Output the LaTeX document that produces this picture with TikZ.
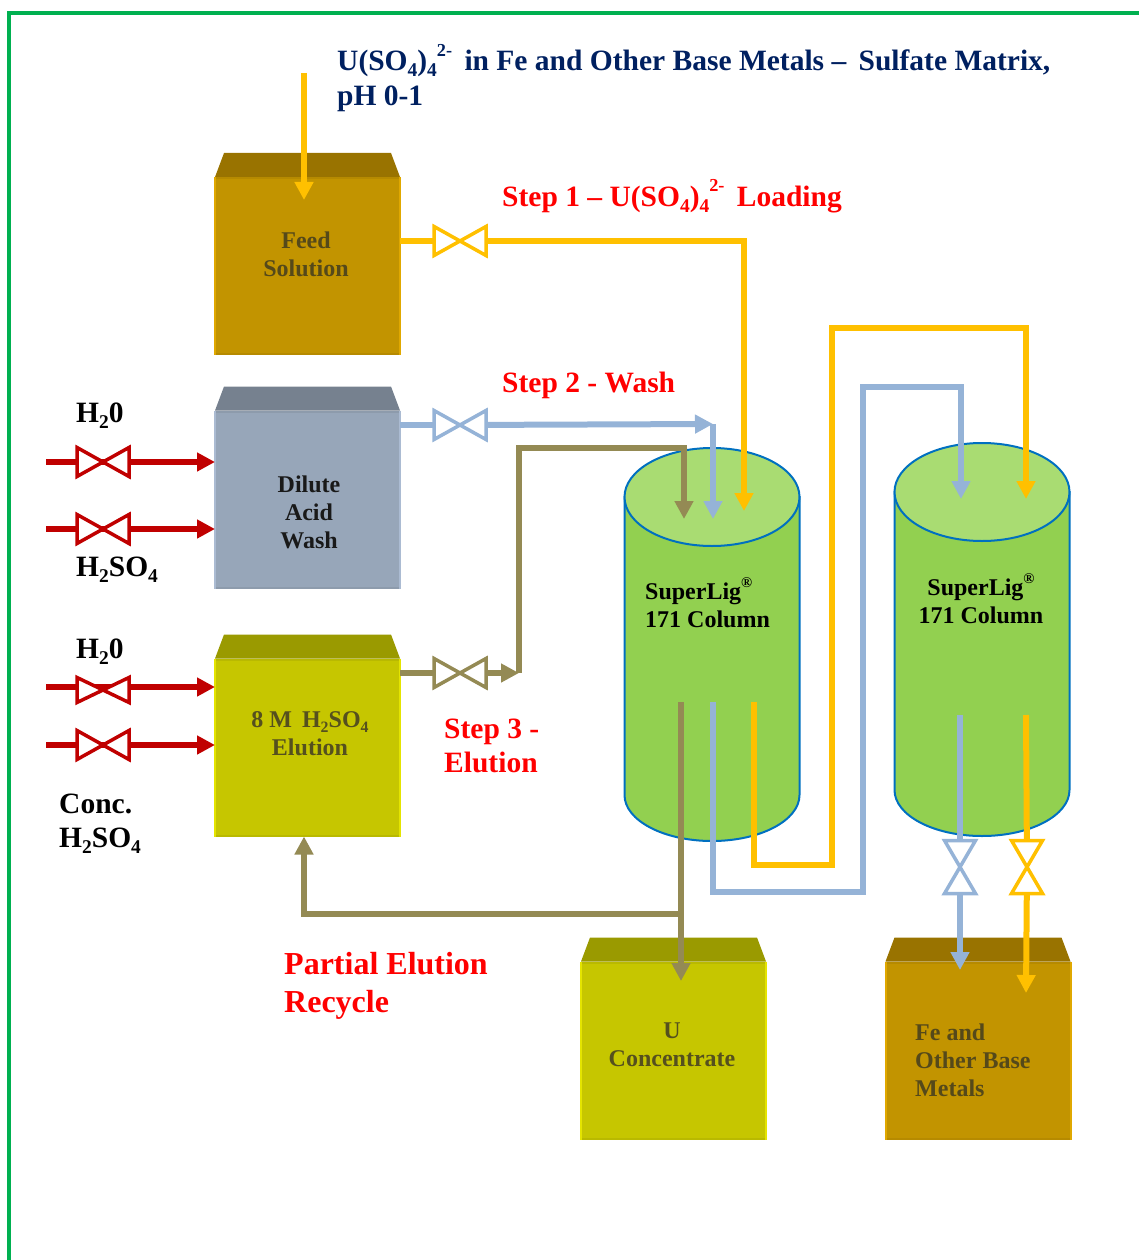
\documentclass[tikz,border=0pt]{standalone}
\usepackage{fontspec}
\setmainfont{Liberation Serif}
\usetikzlibrary{arrows.meta, calc}
\definecolor{framegreen}{HTML}{00B050}
\definecolor{pipeyel}{HTML}{FFC000}
\definecolor{pipeblue}{HTML}{95B3D7}
\definecolor{pipeolive}{HTML}{948A54}
\definecolor{pipered}{HTML}{C00000}
\definecolor{amberfill}{HTML}{C29400}
\definecolor{ambertop}{HTML}{997300}
\definecolor{amberedge}{HTML}{E0A800}
\definecolor{slatefill}{HTML}{97A6B9}
\definecolor{slatetop}{HTML}{76818F}
\definecolor{slateedge}{HTML}{ABBBD2}
\definecolor{limefill}{HTML}{C6C600}
\definecolor{limetop}{HTML}{9A9A00}
\definecolor{limeedge}{HTML}{E4E400}
\definecolor{colbody}{HTML}{92D050}
\definecolor{coltop}{HTML}{A9DC72}
\definecolor{colline}{HTML}{0070C0}
\definecolor{titleblue}{HTML}{002060}
\definecolor{ambertext}{HTML}{55491A}
\definecolor{limetext}{HTML}{55501E}
\newcommand{\subs}[1]{\raisebox{-0.2em}{\fontsize{0.66em}{0}\selectfont #1}}
\newcommand{\sups}[1]{\raisebox{0.5em}{\fontsize{0.62em}{0}\selectfont #1}}

\begin{document}
\begin{tikzpicture}[
    x=1pt, y=-1pt,
    >={Triangle[length=18pt,width=18pt]},
    tank/.style={minimum width=185pt, minimum height=178pt,
                 inner sep=0pt, outer sep=0pt},
    column/.style={minimum width=175pt, minimum height=393pt,
                   inner sep=0pt, outer sep=0pt},
    valve/.style={minimum width=52pt, minimum height=29pt,
                  inner sep=0pt, outer sep=0pt},
    valveup/.style={minimum width=31pt, minimum height=53pt,
                    inner sep=0pt, outer sep=0pt},
    pipe/.style={line width=6pt, line join=miter},
    tanktext/.style={font=\fontsize{24}{28}\selectfont\bfseries, align=center, inner sep=0pt},
    coltext/.style={font=\fontsize{24}{28}\selectfont\bfseries, align=left, anchor=west, inner sep=0pt},
    steplabel/.style={font=\fontsize{29.5}{34}\selectfont\bfseries, text=red, align=left, anchor=west, inner sep=0pt},
    feedlabel/.style={font=\fontsize{29.5}{34}\selectfont\bfseries, align=left, anchor=west, inner sep=0pt},
]
\useasboundingbox (0,0) rectangle (1139,1260);

% ---------------- Frame ----------------------------
\coordinate (framebl) at (9,1260);
\coordinate (frametl) at (9,13);
\coordinate (frametr) at (1139,13);
\draw[framegreen, line width=4pt] (framebl) -- (frametl) -- (frametr);

% ---------------- Tanks ----------------------------
\node[tank] (feed)  at (307.5,266) {};
\node[tank] (wash)  at (307.5,499.5) {};
\node[tank] (elute) at (307.5,747.5) {};
\node[tank] (conc)  at (673.5,1050.5) {};
\node[tank] (metal) at (978,1050.5) {};

\foreach \tank/\fillc/\topc/\edgec in {feed/amberfill/ambertop/amberedge,
                                       wash/slatefill/slatetop/slateedge,
                                       elute/limefill/limetop/limeedge,
                                       conc/limefill/limetop/limeedge,
                                       metal/amberfill/ambertop/amberedge} {%
    \fill[\topc] (\tank.north west) -- ($(\tank.north west)+(9,-24)$)
        -- ($(\tank.north east)+(-9,-24)$) -- (\tank.north east) -- cycle;
    \fill[\fillc] (\tank.north west) rectangle (\tank.south east);
    \draw[\topc!30!\fillc, line width=2pt]
        ([yshift=-1pt]\tank.north west) -- ([yshift=-1pt]\tank.north east);
    \draw[\topc!30!\fillc, line width=2pt]
        ([yshift=1pt]\tank.south west) -- ([yshift=1pt]\tank.south east);
    \draw[\edgec, line width=2pt]
        (\tank.north west) -- (\tank.south west);
    \draw[\edgec, line width=2pt]
        (\tank.north east) -- (\tank.south east);
}

% ---------------- Columns --------------------------
\node[column] (col1) at (712,644.5) {};
\node[column] (col2) at (982,639.5) {};

\foreach \col in {col1, col2} {%
    \draw[colline, line width=2pt, fill=colbody]
        ($(\col.north west)+(0,49)$) -- ($(\col.south west)+(0,-46)$)
        arc[start angle=180, end angle=0, x radius=87.5, y radius=46]
        -- ($(\col.north east)+(0,49)$) -- cycle;
    \draw[colline, line width=2pt, fill=coltop]
        ($(\col.north)+(0,49)$) ellipse [x radius=87.5, y radius=49];
}

% ---------------- Valves ---------------------------
\node[valve] (vfeed)  at (460,241) {};
\node[valve] (vwash)  at (460,425) {};
\node[valve] (velute) at (460,673) {};
\node[valve] (vwatera) at (103,462) {};
\node[valve] (vacida)  at (103,529) {};
\node[valve, minimum height=25pt] (vwaterb) at (103,690) {};
\node[valve] (vacidb)  at (103,745) {};
\node[valveup] (vblue) at (960,867) {};
\node[valveup] (vyel)  at (1027,867) {};

% ---------------- Free pipe ends -------------------
\coordinate (feedin)   at (304,73);
\coordinate (feedtip)  at (304,200);
\coordinate (watera)   at (46,462);
\coordinate (acida)    at (46,529);
\coordinate (waterb)   at (46,687);
\coordinate (acidb)    at (46,745);
\coordinate (yelout)   at (754,702);
\coordinate (blueout)  at (713,702);
\coordinate (oliveout) at (681,702);
\coordinate (yelin)    at (744,511);
\coordinate (bluein)   at (713,519);
\coordinate (olivein)  at (684,519);
\coordinate (yelinb)   at (1026,499);
\coordinate (blueinb)  at (961,499);
\coordinate (yeloutb)  at (1026,715);
\coordinate (blueoutb) at (960,715);
\coordinate (yeltip)   at (1026,993);
\coordinate (bluetip)  at (960,970);
\coordinate (concTip)  at (681,981);
\coordinate (riser)    at (519,673);
\coordinate (washtip)  at (713,424);
\coordinate (recycle)  at (681,914);

% ---------------- Feed (yellow) --------------------
\draw[->, pipe, pipeyel] (feedin) -- (feedtip);
\draw[pipe, pipeyel] (feed.east |- vfeed) -- (vfeed);
\draw[->, pipe, pipeyel] (vfeed) -| (yelin);
\draw[->, pipe, pipeyel] (yelout) |- (832,865) -- (832,328) -| (yelinb);
\draw[pipe, pipeyel] (yeloutb) -- (vyel);
\draw[->, pipe, pipeyel] (vyel) -- (yeltip);

% ---------------- Wash (blue) ----------------------
\draw[pipe, pipeblue] (wash.east |- vwash) -- (vwash);
\draw[->, pipe, pipeblue] (vwash) -- (washtip);
\draw[->, pipe, pipeblue] (washtip) -- (bluein);
\draw[->, pipe, pipeblue] (blueout) |- (863,892) -- (863,387) -| (blueinb);
\draw[pipe, pipeblue] (blueoutb) -- (vblue);
\draw[->, pipe, pipeblue] (vblue) -- (bluetip);

% ---------------- Elution (olive) ------------------
\draw[pipe, pipeolive] (elute.east |- velute) -- (velute);
\draw[->, pipe, pipeolive] (velute) -- (riser);
\draw[->, pipe, pipeolive] (riser) |- (684,448) -- (olivein);
\draw[->, pipe, pipeolive] (oliveout) -- (concTip);
\draw[->, pipe, pipeolive] (recycle) -| (elute.south -| feedin);

% ---------------- Acid feeds (red) -----------------
\foreach \feedend in {watera, acida, waterb, acidb} {%
    \draw[->, pipe, line width=6.5pt, pipered] (\feedend) -- (wash.west |- \feedend);
}

% Bow-ties go over the pipes
\foreach \v/\c in {vfeed/pipeyel, vwash/pipeblue, velute/pipeolive, vwatera/pipered,
                   vacida/pipered, vwaterb/pipered, vacidb/pipered} {%
    \draw[\c, line width=3.5pt, fill=white]
        (\v.north west) -- (\v.south east) -- (\v.north east) -- (\v.south west) -- cycle;
}
\foreach \v/\c in {vblue/pipeblue, vyel/pipeyel} {%
    \draw[\c, line width=3.5pt, fill=white]
        (\v.north west) -- (\v.north east) -- (\v.south west) -- (\v.south east) -- cycle;
}

% ---------------- Texts ----------------------------
\node[tanktext, text=ambertext] (feedtext) at (306,254) {Feed\\Solution};
\node[tanktext, text=black!90] (washtext) at (309,512) {Dilute\\Acid\\Wash};
\node[tanktext, text=limetext] (elutetext) at (310,734)
    {8 M\, H\subs{2}SO\subs{4}\\Elution};
\node[tanktext, text=limetext] (conctext) at (672,1045) {U\\Concentrate};
\node[tanktext, text=ambertext, align=left, anchor=west] (metaltext) at (915,1060)
    {Fe and\\Other Base\\Metals};

\node[coltext] (coltexta) at (645,603) {SuperLig\sups{®}\\171 Column};
\node[coltext, align=center, anchor=center] (coltextb) at (981,599)
    {SuperLig\sups{®}\\171 Column};

\node[feedlabel, text=titleblue, font=\fontsize{29.5}{35}\selectfont\bfseries] (title) at (337,78)
    {U(SO\subs{4})\subs{4}\sups{2-}\, in Fe and Other Base Metals --\, Sulfate Matrix,\\pH 0-1};

\node[steplabel] (stepa) at (502,196) {Step 1 -- U(SO\subs{4})\subs{4}\sups{2-}\, Loading};
\node[steplabel] (stepb) at (502,385) {Step 2 - Wash};
\node[steplabel] (stepc) at (444,746) {Step 3 -\\Elution};
\node[steplabel, font=\fontsize{32}{38}\selectfont\bfseries] (recyclelabel) at (284,986)
    {Partial Elution\\Recycle};

\node[feedlabel] (wateratext) at (76,416) {H\subs{2}0};
\node[feedlabel] (acidatext)  at (76,570) {H\subs{2}SO\subs{4}};
\node[feedlabel] (waterbtext) at (76,652) {H\subs{2}0};
\node[feedlabel] (acidbtext)  at (59,824) {Conc.\\H\subs{2}SO\subs{4}};

\end{tikzpicture}
\end{document}
